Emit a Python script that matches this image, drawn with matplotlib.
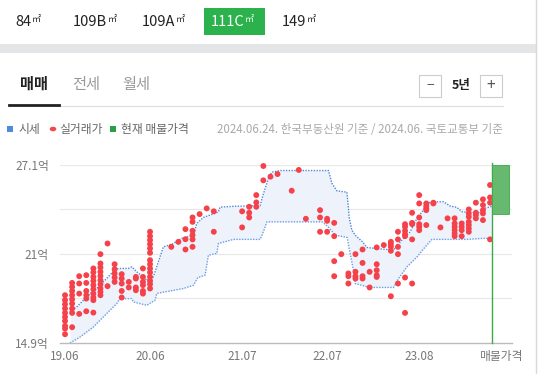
import matplotlib
matplotlib.use("Agg")
import matplotlib.pyplot as plt
from matplotlib.patches import Rectangle, Circle
import numpy as np

plt.rcParams['font.family'] = ['Noto Sans CJK KR', 'DejaVu Sans']

# ---------------- data ----------------
size_tabs = ["84㎡", "109B㎡", "109A㎡", "111C㎡", "149㎡"]
selected_tab = "111C㎡"
deal_tabs = ["매매", "전세", "월세"]
period_label = "5년"
legend_labels = ["시세", "실거래가", "현재 매물가격"]
source_note = "2024.06.24. 한국부동산원 기준 / 2024.06. 국토교통부 기준"

# months since 2019.06
x_tick_months = [0, 12, 25, 37, 50]
x_tick_labels = ["19.06", "20.06", "21.07", "22.07", "23.08"]
listing_label = "매물가격"
y_ticks = [14.9, 17.95, 21.0, 24.05, 27.1]
y_labels = {14.9: "14.9억", 21.0: "21억", 27.1: "27.1억"}

# 시세 band (upper / lower), 억
upper_m = [0.7, 1.65, 3.06, 4.94, 6.78, 7.53, 8.94, 9.42, 10.13, 11.54, 12.47, 13.88, 15.07,
           16.48, 18.12, 18.6, 19.53, 21.65, 21.89, 23.77, 27.54, 28.0, 28.71, 29.2, 30.37,
           37.19, 37.67, 38.38, 39.79, 40.01, 40.11, 40.49, 40.96, 41.99, 42.61, 43.79, 46.37,
           47.56, 48.73, 49.68, 50.61, 51.55, 53.43, 54.38, 55.32, 56.03, 58.37, 59.08, 60.27]
upper_v = [17.02, 17.37, 18.05, 18.85, 19.77, 20.0, 20.0, 20.11, 19.77, 19.2, 19.42, 21.48, 21.65,
           22.06, 22.28, 23.08, 23.49, 23.86, 24.2, 24.25, 24.3, 25.1, 26.13, 26.59, 26.7,
           26.7, 25.83, 25.31, 25.22, 24.12, 23.5, 22.62, 22.28, 21.82, 21.44, 21.37, 21.26,
           21.94, 22.51, 23.43, 24.0, 24.56, 24.56, 24.27, 24.18, 23.88, 23.81, 24.1, 24.25]
lower_m = [0.7, 2.12, 4.0, 5.89, 7.3, 7.77, 9.42, 9.65, 11.54, 12.71, 12.95, 14.12, 16.71,
           18.12, 18.74, 19.77, 20.24, 21.43, 21.65, 23.77, 27.54, 28.0, 28.49, 30.37, 36.26,
           37.19, 38.14, 39.83, 40.11, 40.72, 40.96, 42.37, 42.84, 46.37, 47.08, 48.26, 49.68,
           50.85, 51.79, 56.74, 59.08, 60.27]
lower_v = [14.9, 15.31, 16.0, 16.92, 17.6, 17.94, 17.94, 17.71, 17.48, 17.83, 18.29, 18.4, 18.63,
           18.85, 19.38, 19.54, 20.91, 21.03, 21.71, 21.99, 21.99, 22.51, 23.19, 23.19, 23.19,
           22.83, 22.28, 22.12, 21.37, 19.88, 18.97, 18.79, 18.7, 18.7, 19.31, 20.11, 20.79,
           21.48, 21.99, 21.99, 22.06, 22.06]

# 실거래가 (month -> list of prices, 억)
deals = {
    0: [18.17, 17.83, 17.55, 17.26, 16.96, 16.68, 16.41, 16.07, 15.89, 15.5],
    1: [19.01, 18.74, 18.46, 18.17, 17.89, 17.6, 17.26, 16.96, 15.98],
    2: [19.47, 18.97, 18.28, 16.89],
    3: [19.54, 19.01, 18.46, 18.17, 17.94, 17.07],
    4: [20.0, 19.73, 19.42, 19.15, 18.86, 18.58, 18.28, 18.01, 17.83, 16.98],
    5: [20.98, 20.34, 20.07, 19.77, 19.49, 19.2, 18.92, 18.63, 18.4, 18.17],
    6: [21.71, 18.79],
    7: [20.29, 19.95, 19.66, 19.38, 19.08],
    8: [19.61, 19.31, 18.97, 18.46, 18.01],
    9: [19.08, 18.7],
    10: [19.42, 19.31, 18.7, 18.51],
    11: [20.0, 19.42, 19.08, 18.86, 18.46, 18.28],
    12: [22.51, 22.21, 21.94, 21.66, 21.37, 21.07, 20.57, 20.29, 20.0, 19.73, 19.42, 19.15, 18.92, 18.63],
    15: [21.48],
    16: [21.82],
    17: [22.69, 22.0, 21.3],
    18: [23.49, 23.19, 22.58, 22.28, 21.99, 21.48],
    19: [23.72],
    20: [24.11],
    21: [23.91, 22.51],
    25: [23.91, 22.81],
    26: [24.22, 23.81, 23.49],
    27: [25.02, 24.52, 24.22],
    28: [27.01, 26.03],
    29: [26.28],
    30: [26.46],
    32: [25.32],
    33: [26.74],
    34: [23.4],
    36: [23.99, 23.49, 22.51],
    37: [23.4, 23.26, 22.51],
    38: [23.12, 22.21, 20.5, 19.47],
    39: [20.98],
    40: [19.66, 19.47, 18.97],
    41: [20.98, 19.77, 19.47, 19.31],
    42: [21.3, 20.38, 19.47, 19.31],
    43: [19.77, 18.7],
    44: [21.44, 20.29, 19.88, 19.54, 19.42],
    45: [21.6],
    46: [21.82, 21.66, 21.48, 21.21, 18.1],
    47: [22.51, 21.99, 21.48, 20.98, 18.97],
    48: [23.03, 22.85, 22.58, 22.35, 22.21, 19.38, 16.96],
    49: [23.81, 23.12, 23.03, 21.99, 18.97],
    50: [25.02, 24.45, 23.49, 23.03, 22.85, 22.62],
    51: [24.45, 24.27, 24.11, 23.99, 22.97],
    52: [24.5, 24.45],
    53: [22.81],
    54: [23.43],
    55: [23.43, 23.08, 22.85, 22.62, 22.4, 22.21],
    56: [23.08, 22.85, 22.62, 22.21],
    57: [24.04, 23.77, 23.54, 23.19, 22.97, 22.74, 22.51],
    58: [24.5, 23.81, 23.65, 23.43],
    59: [24.73, 24.34, 23.99, 23.77, 23.31],
    60: [25.71, 24.86, 24.5, 21.99],
}

listing_month = 60.3
listing_low, listing_high = 23.72, 27.05
listing_width = 2.4

# ---------------- figure ----------------
W, H = 538, 374
fig = plt.figure(figsize=(W / 100, H / 100), dpi=100)
fig.patch.set_facecolor("white")
renderer = fig.canvas.get_renderer()


def fx(px):
    return px / W


def fy(py):
    return 1 - py / H


def frect(x0, y0, x1, y1, **kw):
    r = Rectangle((fx(x0), fy(y1)), fx(x1) - fx(x0), fy(y0) - fy(y1),
                  transform=fig.transFigure, **kw)
    fig.patches.append(r)
    return r


# size tabs: number part + small ㎡ unit
tab_left = [15, 73, 142, 211, 282]
for lbl, x0 in zip(size_tabs, tab_left):
    if lbl == selected_tab:
        frect(204, 8, 265, 35, facecolor="#2bb24c", edgecolor="none")
        col = "white"
    else:
        col = "#222222"
    main, unit = lbl[:-1], lbl[-1]
    t = fig.text(fx(x0), fy(22), main, ha="left", va="center", fontsize=10.5, color=col)
    bb = t.get_window_extent(renderer)
    fig.text(bb.x1 / W + 0.5 / W, fy(20), unit, ha="left", va="center", fontsize=6.5, color=col)

# separator band
frect(0, 44, 536, 53, facecolor="#e4e5e7", edgecolor="none")
# right border
fig.lines.append(plt.Line2D([fx(536), fx(536)], [0, 1], transform=fig.transFigure,
                            color="#d8d8d8", lw=1))

# deal tabs
deal_x = [34, 86, 136]
for i, (lbl, cx) in enumerate(zip(deal_tabs, deal_x)):
    fig.text(fx(cx), fy(84), lbl, ha="center", va="center", fontsize=11,
             color="#222222" if i == 0 else "#999999", fontweight="bold" if i == 0 else "normal")
fig.lines.append(plt.Line2D([fx(59), fx(503)], [fy(105.5), fy(105.5)], transform=fig.transFigure,
                            color="#dddddd", lw=0.8))
fig.lines.append(plt.Line2D([fx(9), fx(59)], [fy(105), fy(105)], transform=fig.transFigure,
                            color="#222222", lw=2))

# period buttons
frect(419, 75, 441, 97, facecolor="white", edgecolor="#cccccc", lw=0.8)
frect(480, 75, 502, 97, facecolor="white", edgecolor="#cccccc", lw=0.8)
fig.text(fx(430), fy(86), "−", ha="center", va="center", fontsize=10, color="#555555")
fig.text(fx(491), fy(86), "+", ha="center", va="center", fontsize=11, color="#555555")
fig.text(fx(461), fy(86), period_label, ha="center", va="center", fontsize=9, color="#222222",
         fontweight="bold")

# legend row
ly = 129
frect(7, ly - 3, 13, ly + 3, facecolor="#4a8de0", edgecolor="none")
fig.text(fx(18), fy(ly), legend_labels[0], ha="left", va="center", fontsize=8.5, color="#666666")
fig.patches.append(Circle((fx(53), fy(ly)), 3.3 / W, transform=fig.transFigure,
                          facecolor="#f24a4f", edgecolor="none"))
fig.text(fx(59), fy(ly), legend_labels[1], ha="left", va="center", fontsize=8.5, color="#666666")
frect(110, ly - 3, 116, ly + 3, facecolor="#2aa046", edgecolor="none")
fig.text(fx(121), fy(ly), legend_labels[2], ha="left", va="center", fontsize=8.5, color="#666666")
fig.text(fx(503), fy(ly), source_note, ha="right", va="center", fontsize=8.3, color="#aaaaaa")

# ---------------- chart ----------------
ax = fig.add_axes([fx(60), fy(343), fx(512) - fx(60), fy(164.7) - fy(343)])
ax.set_xlim(-0.71, 63.1)
ax.set_ylim(14.9, 27.1)
for s in ["top", "right", "left"]:
    ax.spines[s].set_visible(False)
ax.spines["bottom"].set_color("#bbbbbb")
ax.spines["bottom"].set_linewidth(1)

for yv in y_ticks[1:]:
    ax.axhline(yv, color="#e8e8e8", lw=0.9, zorder=0)

# band
grid_m = np.union1d(upper_m, lower_m)
ax.fill_between(grid_m, np.interp(grid_m, lower_m, lower_v), np.interp(grid_m, upper_m, upper_v),
                color="#eef3fb", lw=0, zorder=1)
ax.plot(upper_m, upper_v, color="#4f86d9", lw=1.0, ls=(0, (1, 1)), zorder=2)
ax.plot(lower_m, lower_v, color="#6d9ee6", lw=1.0, ls=(0, (1, 1)), zorder=2)

# deals
xs, ys = [], []
for m, vals in deals.items():
    xs += [m] * len(vals)
    ys += vals
ax.scatter(xs, ys, s=18, color="#f5414a", edgecolors="none", zorder=3, clip_on=False)

# listing
ax.axvline(listing_month, color="#3aaa4a", lw=1, zorder=4, ymax=1.01, clip_on=False)
ax.bar(listing_month, listing_high - listing_low, bottom=listing_low, width=listing_width,
       align="edge", color="#66b96f", edgecolor="#3aaa4a", lw=0.6, zorder=4)

ax.set_yticks([14.9, 21.0, 27.1])
ax.set_yticklabels([y_labels[v] for v in [14.9, 21.0, 27.1]])
ax.set_xticks(x_tick_months + [61.5])
ax.set_xticklabels(x_tick_labels + [listing_label])
ax.tick_params(axis="both", length=0, labelsize=8.5, colors="#777777")
ax.tick_params(axis="x", pad=5)
ax.tick_params(axis="y", pad=8)

fig.savefig("out.png", dpi=100, facecolor="white")
